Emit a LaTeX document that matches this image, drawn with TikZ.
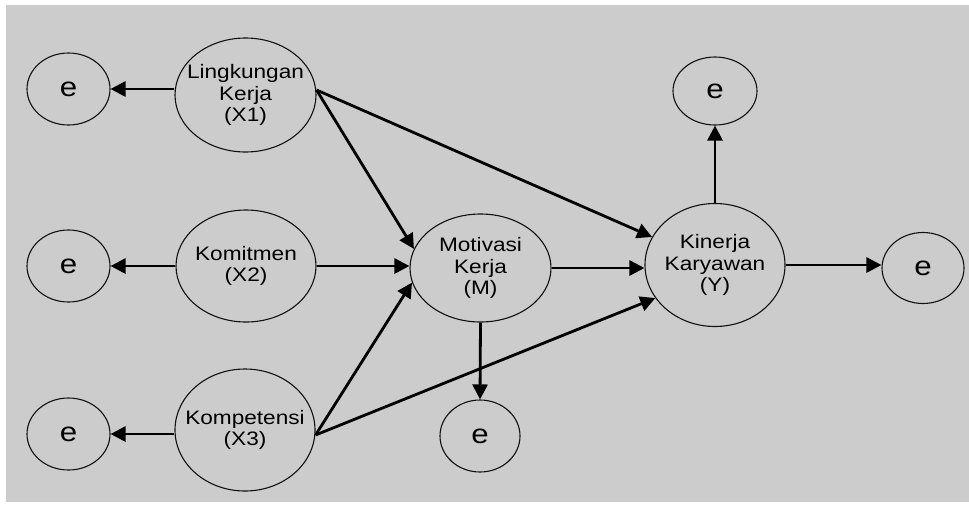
\documentclass[tikz,border=0pt]{standalone}
\usepackage{fontspec}
\setmainfont{Liberation Sans}[FakeStretch=1.16]
\usetikzlibrary{shapes.geometric,arrows.meta}
\definecolor{bg}{HTML}{CCCCCC}
\definecolor{ink}{HTML}{111111}
\begin{document}
\begin{tikzpicture}[x=1pt,y=-1pt,
  var/.style={draw=ink,line width=1.1pt,ellipse,inner sep=-16pt,align=center,
    font=\fontsize{19.5pt}{21.5pt}\selectfont},
  err/.style={draw=ink,line width=1.1pt,ellipse,inner sep=0pt,
    font=\fontsize{27pt}{30pt}\selectfont},
  arr/.style={draw=black,line width=2.8pt,-{Triangle[length=15pt,width=15pt]}}]
\useasboundingbox (0,0) rectangle (969,504);
\fill[bg] (6,5) rectangle (969,502);
% error terms
\node[err,minimum width=83pt,minimum height=72pt] (e1) at (68.5,89) {e};
\node[err,minimum width=83pt,minimum height=72pt] (e2) at (68.5,266) {e};
\node[err,minimum width=83pt,minimum height=72pt] (e3) at (68.5,434) {e};
\node[err,minimum width=80pt,minimum height=72pt] (eM) at (480,436) {e};
\node[err,minimum width=84pt,minimum height=68pt] (eT) at (715,91) {e};
\node[err,minimum width=82pt,minimum height=71pt] (eR) at (923,268) {e};
% latent variables
\node[var,minimum width=141pt,minimum height=114pt] (X1) at (245.5,95) {Lingkungan\\Kerja\\(X1)};
\node[var,minimum width=140pt,minimum height=112pt] (X2) at (246,266) {Komitmen\\(X2)};
\node[var,minimum width=140pt,minimum height=122pt] (X3) at (245,430) {Kompetensi\\(X3)};
\node[var,minimum width=141pt,minimum height=108pt] (M) at (480.5,268) {Motivasi\\Kerja\\(M)};
\node[var,minimum width=140pt,minimum height=123pt] (Y) at (715,265) {Kinerja\\Karyawan\\(Y)};
% connectors
\draw[arr] (X1.west |- e1.east) -- (e1.east);
\draw[arr] (X2.west) -- (e2.east);
\draw[arr] (X3.west |- e3.east) -- (e3.east);
\draw[arr] ([yshift=5pt]X1.east) -- (M.164);
\draw[arr] ([yshift=5pt]X1.east) -- (Y.156);
\draw[arr] (X2.east) -- (X2.east -| M.west);
\draw[arr] ([yshift=-5pt]X3.east) -- (M.192);
\draw[arr] ([yshift=-5pt]X3.east) -- (Y.209);
\draw[arr] (M.east) -- (M.east -| Y.west);
\draw[arr] (M.south) -- (eM.north);
\draw[arr] (Y.north) -- (eT.south);
\draw[arr] (Y.east) -- (Y.east -| eR.west);
\end{tikzpicture}
\end{document}
